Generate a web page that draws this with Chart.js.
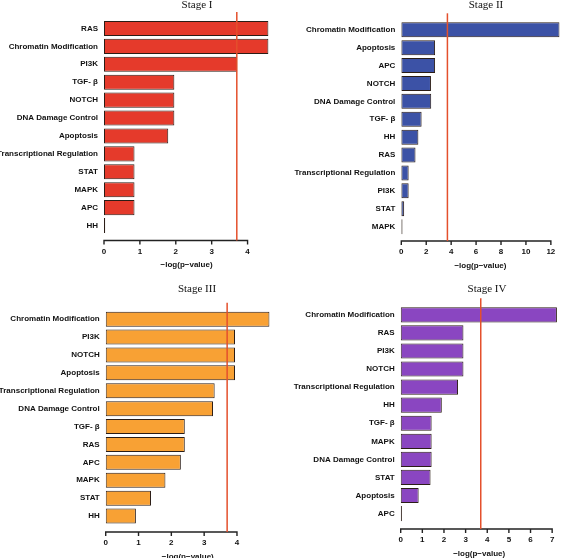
<!DOCTYPE html>
<html><head><meta charset="utf-8">
<script src="https://cdn.jsdelivr.net/npm/chart.js@4/dist/chart.umd.min.js"></script>
<style>
html,body{margin:0;padding:0;background:#fff;}
#wrap{position:relative;width:567px;height:558px;overflow:hidden;background:#fff;}
canvas{position:absolute;display:block;}
</style></head><body>
<div id="wrap">
<canvas id="c1" width="283" height="279" style="left:0;top:0"></canvas>
<canvas id="c2" width="284" height="279" style="left:283px;top:0"></canvas>
<canvas id="c3" width="283" height="279" style="left:0;top:279px"></canvas>
<canvas id="c4" width="284" height="279" style="left:283px;top:279px"></canvas>
</div>
<script>
// ---- data ----
const stage1Labels = ['RAS','Chromatin Modification','PI3K','TGF- β','NOTCH','DNA Damage Control','Apoptosis','Transcriptional Regulation','STAT','MAPK','APC','HH'];
const stage1Values = [4.58,4.58,3.71,1.96,1.96,1.96,1.79,0.85,0.85,0.85,0.85,0];
const stage2Labels = ['Chromatin Modification','Apoptosis','APC','NOTCH','DNA Damage Control','TGF- β','HH','RAS','Transcriptional Regulation','PI3K','STAT','MAPK'];
const stage2Values = [12.7,2.71,2.71,2.38,2.40,1.63,1.37,1.14,0.59,0.59,0.23,0];
const stage3Labels = ['Chromatin Modification','PI3K','NOTCH','Apoptosis','Transcriptional Regulation','DNA Damage Control','TGF- β','RAS','APC','MAPK','STAT','HH'];
const stage3Values = [4.99,3.94,3.94,3.94,3.32,3.27,2.41,2.41,2.29,1.82,1.38,0.92];
const stage4Labels = ['Chromatin Modification','RAS','PI3K','NOTCH','Transcriptional Regulation','HH','TGF- β','MAPK','DNA Damage Control','STAT','Apoptosis','APC'];
const stage4Values = [7.22,2.9,2.9,2.9,2.65,1.9,1.43,1.43,1.43,1.38,0.83,0];
const stageTitles = ['Stage I','Stage II','Stage III','Stage IV'];
const thresholds = [3.7,3.7,3.7,3.7];
const axisMax = [4.6,12.7,5.0,7.25];
const tickStep = [1,2,1,1];
const lastTick = [4,12,4,7];
const axisTitle = '\u2212log(p\u2212value)';

// ---- layout / style ----
const panels = [
  {id:'c1', labels:stage1Labels, values:stage1Values, color:'#e53a2b', x0:104, right:269.1, top:19.5, bottom:234.5, axisY:240.5, tx:197, ty:5},
  {id:'c2', labels:stage2Labels, values:stage2Values, color:'#3c52a6', x0:118.3, right:282.4, top:20.8, bottom:235.6, axisY:241, tx:203, ty:5},
  {id:'c3', labels:stage3Labels, values:stage3Values, color:'#f8a134', x0:105.7, right:270.2, top:31.2, bottom:246, axisY:253, tx:197, ty:10},
  {id:'c4', labels:stage4Labels, values:stage4Values, color:'#8a46c1', x0:117.7, right:283.5, top:26.8, bottom:243.6, axisY:250, tx:204, ty:10}
];
const labelFont = {family:"'Liberation Sans',Arial,sans-serif", size:8, weight:'bold'};

const deco = {
  id:'deco',
  afterDatasetsDraw(chart, args, o){
    const ctx = chart.ctx, xs = chart.scales.x, ca = chart.chartArea;
    ctx.save();
    // axis line & ticks
    ctx.strokeStyle = '#222'; ctx.lineWidth = 1.4;
    ctx.beginPath();
    ctx.moveTo(xs.getPixelForValue(0)-0.7, o.axisY);
    ctx.lineTo(xs.getPixelForValue(o.last)+0.7, o.axisY);
    for (let v = 0; v <= o.last; v += o.step){
      const px = xs.getPixelForValue(v);
      ctx.moveTo(px, o.axisY); ctx.lineTo(px, o.axisY+4);
    }
    ctx.stroke();
    // threshold line
    const tx = xs.getPixelForValue(o.threshold);
    ctx.strokeStyle = '#e4502c'; ctx.lineWidth = 1.5;
    ctx.beginPath(); ctx.moveTo(tx, ca.top-7.5); ctx.lineTo(tx, o.axisY); ctx.stroke();
    // title
    ctx.fillStyle = '#111';
    ctx.font = "11px 'Liberation Serif','DejaVu Serif',serif";
    ctx.textAlign = 'center'; ctx.textBaseline = 'middle';
    ctx.fillText(o.title, o.tx, o.ty);
    ctx.restore();
  }
};

panels.forEach((p, i) => {
  const cv = document.getElementById(p.id);
  const W = cv.width, H = cv.height;
  new Chart(cv, {
    type:'bar',
    data:{ labels:p.labels, datasets:[{
      data:p.values, backgroundColor:p.color, borderColor:'#2b1d16', borderWidth:1,
      borderSkipped:false, barPercentage:0.84, categoryPercentage:1, minBarLength:1.2
    }]},
    plugins:[deco],
    options:{
      indexAxis:'y', responsive:false, animation:false, devicePixelRatio:1,
      layout:{padding:{left:0, right:W - p.right, top:p.top, bottom:0}},
      plugins:{legend:{display:false}, tooltip:{enabled:false},
        deco:{axisY:p.axisY, last:lastTick[i], step:tickStep[i], threshold:thresholds[i], title:stageTitles[i], tx:p.tx, ty:p.ty}},
      scales:{
        x:{ min:0, max:axisMax[i], grid:{display:false, drawTicks:false}, border:{display:false},
            ticks:{stepSize:tickStep[i], includeBounds:false, autoSkip:false, maxRotation:0, padding:(p.axisY+11) - p.bottom - 4.8, color:'#111', font:labelFont,
              callback:(v)=> v <= lastTick[i] ? String(v) : ''},
            title:{display:true, text:axisTitle, color:'#111', font:labelFont, padding:{top:0, bottom: H - (p.axisY+24.5) - 4.8}},
            afterFit:(s)=>{ s.height = H - p.bottom; } },
        y:{ grid:{display:false, drawTicks:false}, border:{display:false},
            ticks:{autoSkip:false, padding:6, color:'#111', font:labelFont},
            afterFit:(s)=>{ s.width = p.x0; } }
      }
    }
  });
});
</script>
</body></html>
